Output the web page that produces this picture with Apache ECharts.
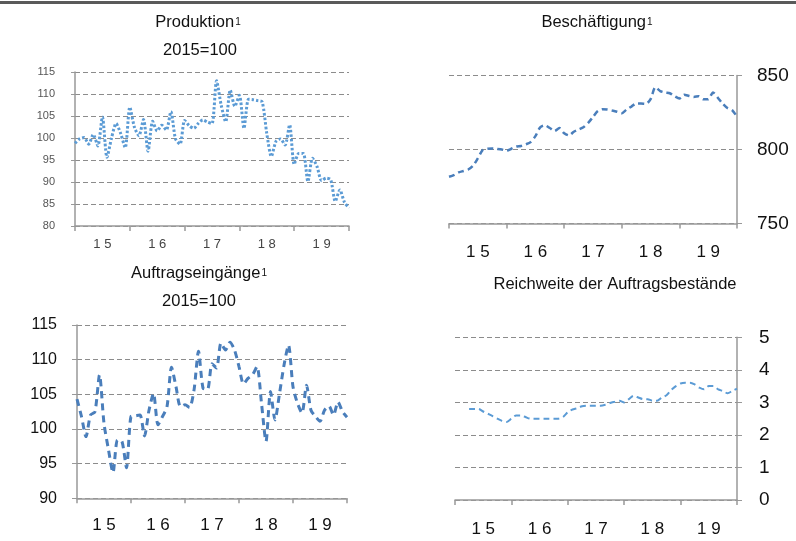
<!DOCTYPE html>
<html><head><meta charset="utf-8">
<script src="https://cdn.jsdelivr.net/npm/echarts@6/dist/echarts.min.js"></script>
<style>html,body{margin:0;padding:0;background:#fff}#c{width:796px;height:541px}</style>
</head><body><div id="c"></div>
<script>
// Tick labels
const yearLabels = ['1 5', '1 6', '1 7', '1 8', '1 9'];
const yearNums = [2015, 2016, 2017, 2018, 2019, 2020];
// monthly categories Jan 2015 .. Jan 2020
const months = [];
yearNums.forEach(y => { for (let m = 1; m <= 12; m++) { if (y < 2020 || m === 1) months.push(y + '-' + (m < 10 ? '0' + m : m)); } });

// Produktion (2015=100)
const produktion = [98.8, 99.8, 100.1, 98.6, 100.8, 98.2, 104.8, 95.6, 100.0, 103.3, 101.0, 97.8,
  107.0, 102.5, 100.5, 104.2, 97.0, 103.8, 101.6, 102.9, 101.8, 106.0, 99.8, 98.6,
  104.0, 102.8, 102.2, 103.3, 104.1, 103.6, 103.3, 113.0, 107.5, 103.7, 110.9, 107.2,
  109.7, 102.2, 108.8, 108.7, 108.5, 108.2, 101.0, 95.8, 99.2, 99.8, 98.4, 103.0,
  94.0, 96.5, 96.5, 90.1, 95.4, 93.5, 90.3, 90.9, 90.5, 85.6, 88.2, 85.4, 84.1];

// Beschäftigung (Tsd.)
const beschaeftigung = [781.6, 782.7, 784.5, 785.5, 786.5, 789, 794, 799.5, 800.5, 800.7, 800.4, 800,
  799.2, 800.5, 802, 802.4, 803.5, 805, 809, 815, 816.3, 814.5, 812.5, 814.5,
  811, 809.5, 812, 813.5, 815, 818, 822, 826, 827.2, 827, 826.3, 825.5,
  824.5, 827, 829, 831, 831, 830.8, 834, 842, 839.5, 838.5, 838, 836,
  834.5, 837, 836.2, 835.5, 836, 834, 834, 838.5, 835, 831, 828, 826.5, 822.2];

// Auftragseingänge (2015=100)
const auftragseingaenge = [104.3, 101.8, 98.9, 102, 102.5, 107.8, 100.8, 97, 93.7, 98.4, 98.2, 94.4,
  101.8, 101.9, 102, 99, 102.7, 105.1, 100.6, 101.8, 103.2, 108.9, 106.1, 103.2,
  103.5, 103.1, 105.6, 111.2, 105.9, 105.7, 109.4, 108.8, 112.4, 111.4, 112.5, 111.4,
  109, 106.5, 107.3, 107.8, 109, 103.7, 98.2, 105.4, 101.3, 105.1, 109.2, 112.1,
  106.1, 103.7, 102.3, 106.3, 102.7, 101.8, 101.1, 102.7, 103.3, 102, 103.9, 102.5, 101.7];

// Reichweite der Auftragsbestände (Monate)
const reichweite = [null, null, null, 2.8, 2.8, 2.8, 2.72, 2.65, 2.58, 2.5, 2.43, 2.4,
  2.5, 2.6, 2.6, 2.55, 2.5, 2.5, 2.5, 2.5, 2.5, 2.5, 2.5, 2.55,
  2.7, 2.78, 2.82, 2.88, 2.9, 2.9, 2.9, 2.9, 2.93, 2.98, 3.02, 3.05,
  3.0, 3.1, 3.2, 3.15, 3.1, 3.1, 3.05, 3.05, 3.15, 3.22, 3.38, 3.5,
  3.58, 3.6, 3.6, 3.55, 3.45, 3.4, 3.5, 3.5, 3.4, 3.35, 3.28, 3.35, 3.42];

const FONT = '"Liberation Sans", Arial, sans-serif';
const grids = [
  {left: 75, top: 72, width: 274, height: 154},
  {left: 449, top: 75.5, width: 288, height: 148},
  {left: 77, top: 325, width: 270, height: 173.3},
  {left: 455, top: 337.3, width: 282, height: 162.7}
];
const xLabelStyle = [
  {fontSize: 13, color: '#444', margin: 12},
  {fontSize: 17, color: '#111', margin: 20},
  {fontSize: 17, color: '#111', margin: 19},
  {fontSize: 17, color: '#111', margin: 21}
];
const xAxes = [];
grids.forEach((g, i) => {
  xAxes.push({type: 'category', gridIndex: i, data: months, boundaryGap: false, show: false, position: 'bottom'});
  xAxes.push({type: 'category', gridIndex: i, data: yearLabels, boundaryGap: true, position: 'bottom',
    axisLine: {show: true, lineStyle: {color: '#999', width: 1.5}},
    axisTick: {show: true, length: 5, lineStyle: {color: '#999', width: 1.5}},
    axisLabel: Object.assign({fontFamily: FONT}, xLabelStyle[i]),
    splitLine: {show: false}});
});
const split = {show: true, lineStyle: {color: '#8c8c8c', type: [5, 3], width: 1}};
const yAxes = [
  {type: 'value', gridIndex: 0, min: 80, max: 115, interval: 5, position: 'left',
    axisLine: {show: true, lineStyle: {color: '#999', width: 1.5}}, axisTick: {show: true, length: 4, lineStyle: {color: '#999'}},
    axisLabel: {fontSize: 11, color: '#555', fontFamily: FONT, margin: 20}, splitLine: split},
  {type: 'value', gridIndex: 1, min: 750, max: 850, interval: 50, position: 'right',
    axisLine: {show: true, lineStyle: {color: '#999', width: 1.5}}, axisTick: {show: true, length: 5, lineStyle: {color: '#999'}},
    axisLabel: {fontSize: 19, color: '#111', fontFamily: FONT, margin: 20}, splitLine: split},
  {type: 'value', gridIndex: 2, min: 90, max: 115, interval: 5, position: 'left',
    axisLine: {show: true, lineStyle: {color: '#999', width: 1.5}}, axisTick: {show: true, length: 5, lineStyle: {color: '#999'}},
    axisLabel: {fontSize: 16, color: '#111', fontFamily: FONT, margin: 20}, splitLine: split},
  {type: 'value', gridIndex: 3, min: 0, max: 5, interval: 1, position: 'right',
    axisLine: {show: true, lineStyle: {color: '#999', width: 1.5}}, axisTick: {show: true, length: 5, lineStyle: {color: '#999'}},
    axisLabel: {fontSize: 19, color: '#111', fontFamily: FONT, margin: 22}, splitLine: split}
];
function line(i, data, color, width, dash) {
  return {type: 'line', xAxisIndex: 2 * i, yAxisIndex: i, data: data, symbol: 'none', smooth: 0.25,
    connectNulls: false, lineStyle: {color: color, width: width, type: dash}, silent: true, animation: false};
}
const titleRich = {
  t: {fontSize: 16.5, color: '#111', fontFamily: FONT},
  s: {fontSize: 10, color: '#111', fontFamily: FONT, verticalAlign: 'bottom', padding: [0, 0, 4, 1]}
};
function title(text, x, y) {
  return {text: text, left: x, top: y, textAlign: 'center',
    textStyle: {rich: titleRich, fontFamily: FONT, fontSize: 16.5, fontWeight: 'normal', color: '#111'}};
}
const chart = echarts.init(document.getElementById('c'), null, {renderer: 'canvas'});
chart.setOption({
  animation: false,
  backgroundColor: '#fff',
  title: [
    title('{t|Produktion}{s|1}', 193, 9),
    title('{t|2015=100}', 195, 37),
    title('{t|Beschäftigung}{s|1}', 592, 9),
    title('{t|Auftragseingänge}{s|1}', 194, 260),
    title('{t|2015=100}', 194, 288),
    title('{t|Reichweite der Auftragsbestände}', 610, 271)
  ],
  graphic: [{type: 'rect', shape: {x: 0, y: 1, width: 796, height: 3}, style: {fill: '#5a5a5a'}, silent: true}],
  grid: grids,
  xAxis: xAxes,
  yAxis: yAxes,
  series: [
    line(0, produktion, '#5b9bd5', 3, [2.5, 2]),
    line(1, beschaeftigung, '#4a7ebb', 2.5, [6, 4]),
    line(2, auftragseingaenge, '#4a7ebb', 3, [7, 5]),
    line(3, reichweite, '#5b9bd5', 2, [6, 4])
  ]
});
</script></body></html>
